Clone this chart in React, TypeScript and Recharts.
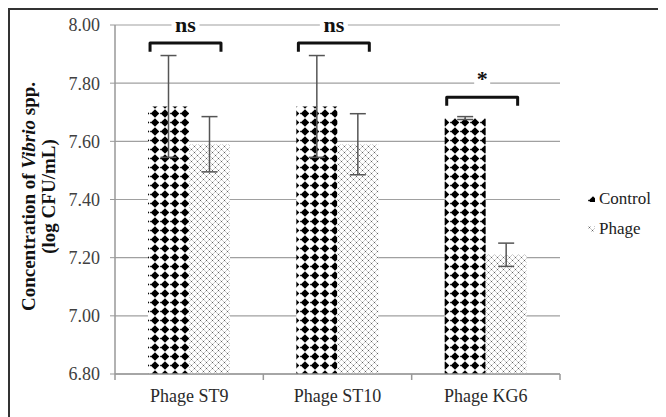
import React from "react";
import { BarChart, Bar, XAxis, YAxis, CartesianGrid, ErrorBar, Legend, LabelList } from "recharts";

const categories = ["Phage ST9", "Phage ST10", "Phage KG6"];
const controlMeans = [7.72, 7.72, 7.68];
const controlErrors = [0.175, 0.175, 0.005];
const phageMeans = [7.59, 7.59, 7.21];
const phageErrors = [0.095, 0.105, 0.04];
const yTicks = [6.8, 7.0, 7.2, 7.4, 7.6, 7.8, 8.0];
const seriesNames = ["Control", "Phage"];
const sigLabels = ["ns", "ns", "*"];
const bracketLevels = [7.938, 7.938, 7.752];

const Y_MIN = yTicks[0];
const Y_MAX = yTicks[yTicks.length - 1];

const data = categories.map((name, i) => ({
  name,
  control: controlMeans[i],
  controlErr: controlErrors[i],
  phage: phageMeans[i],
  phageErr: phageErrors[i],
}));

const SERIF = '"Liberation Serif", "Times New Roman", serif';
const fills = ["url(#ctrlPattern)", "url(#phagePattern)"];

const YLabel = (props: any) => {
  const vb = props.viewBox || {};
  const cy = vb.y + vb.height / 2 - 3;
  const x1 = 18;
  const x2 = 38;
  return (
    <g fontFamily={SERIF} fontWeight="bold" fontSize={19} fill="#111">
      <text x={x1} y={cy} textAnchor="middle" dominantBaseline="central" transform={`rotate(-90 ${x1} ${cy})`}>
        Concentration of <tspan fontStyle="italic">Vibrio</tspan> spp.
      </text>
      <text x={x2} y={cy} textAnchor="middle" dominantBaseline="central" transform={`rotate(-90 ${x2} ${cy})`}>
        (log CFU/mL)
      </text>
    </g>
  );
};

// category tick: label plus Excel-style tick marks on the band boundaries
const CategoryTick = (props: any) => {
  const { x, y, payload, index, width, visibleTicksCount } = props;
  const half = width / visibleTicksCount / 2;
  return (
    <g>
      <line x1={x - half} x2={x - half} y1={y} y2={y + 6} stroke="#999" strokeWidth={1.5} />
      {index === visibleTicksCount - 1 && (
        <line x1={x + half} x2={x + half} y1={y} y2={y + 6} stroke="#999" strokeWidth={1.5} />
      )}
      <text x={x} y={y + 28} textAnchor="middle" fontFamily={SERIF} fontSize={18} fill="#2a2a2a">
        {payload.value}
      </text>
    </g>
  );
};

// significance bracket drawn above each control/phage pair
const Bracket = (props: any) => {
  const { x, y, width, height, index, value } = props;
  if (x == null || index == null) return null;
  const k = height / (value - Y_MIN);
  const lvl = bracketLevels[index];
  const by = y - (lvl - value) * k;
  const leg = 0.03 * k;
  const x1 = x + 0.05 * width;
  const x2 = x + 1.78 * width;
  const ty = y - (lvl + 0.038 - value) * k;
  const label = sigLabels[index];
  const cx = (x1 + x2) / 2;
  const w = label.length * 12 + 4;
  return (
    <g>
      <path
        d={`M${x1},${by + leg} L${x1},${by} L${x2},${by} L${x2},${by + leg}`}
        fill="none"
        stroke="#111"
        strokeWidth={3}
        strokeLinejoin="round"
      />
      <rect x={cx - w / 2} y={ty - 16} width={w} height={19} fill="#fff" />
      <text x={cx} y={ty} textAnchor="middle" fontFamily={SERIF} fontWeight="bold" fontSize={22} fill="#111">
        {label}
      </text>
    </g>
  );
};

const LegendContent = () => (
  <div style={{ width: 96, paddingLeft: 28, boxSizing: "border-box", fontFamily: SERIF, fontSize: 17, color: "#222" }}>
    {seriesNames.map((s, i) => (
      <div key={s} style={{ height: 30, display: "flex", alignItems: "center" }}>
        <svg width={7} height={6} style={{ marginRight: 4 }}>
          <rect width={7} height={6} fill={fills[i]} />
        </svg>
        {s}
      </div>
    ))}
  </div>
);

export default function App() {
  return (
    <div
      style={{
        width: 658,
        height: 409,
        borderTop: "2px solid #333",
        borderLeft: "2px solid #333",
        boxSizing: "border-box",
        background: "#fff",
      }}
    >
      <BarChart
        width={656}
        height={407}
        data={data}
        margin={{ top: 15, right: 10, left: 0, bottom: 13 }}
        barSize={41}
        barGap={0}
      >
        <defs>
          <pattern id="ctrlPattern" patternUnits="userSpaceOnUse" width={10} height={9}>
            <rect width={10} height={9} fill="#fff" />
            <polygon points="5,0.3 9.3,4.5 5,8.7 0.7,4.5" fill="#000" />
            <rect x={0} y={3.8} width={0.8} height={1.4} fill="#000" />
          </pattern>
          <pattern id="phagePattern" patternUnits="userSpaceOnUse" width={6} height={6}>
            <rect width={6} height={6} fill="#fff" />
            <path
              d="M0.6,0.6 L2.4,2.4 M2.4,0.6 L0.6,2.4 M3.6,3.6 L5.4,5.4 M5.4,3.6 L3.6,5.4"
              stroke="#555"
              strokeWidth={0.8}
            />
          </pattern>
        </defs>
        <CartesianGrid vertical={false} stroke="#a0a0a0" strokeWidth={1.2} />
        <XAxis
          dataKey="name"
          height={30}
          tickLine={false}
          tickSize={0}
          tickMargin={0}
          axisLine={{ stroke: "#999", strokeWidth: 1.5 }}
          tick={<CategoryTick />}
        />
        <YAxis
          width={105}
          domain={[Y_MIN, Y_MAX]}
          ticks={yTicks}
          tickFormatter={(v: number) => v.toFixed(2)}
          axisLine={{ stroke: "#999", strokeWidth: 1.5 }}
          tickLine={{ stroke: "#999" }}
          tickSize={5}
          tickMargin={10}
          tick={{ fontFamily: SERIF, fontSize: 18, fill: "#404040" }}
          label={<YLabel />}
        />
        <Legend layout="vertical" align="right" verticalAlign="middle" content={<LegendContent />} />
        <Bar dataKey="control" name={seriesNames[0]} fill={fills[0]} isAnimationActive={false}>
          <ErrorBar dataKey="controlErr" width={8} stroke="#555" strokeWidth={1.5} />
          <LabelList dataKey="control" content={<Bracket />} />
        </Bar>
        <Bar dataKey="phage" name={seriesNames[1]} fill={fills[1]} isAnimationActive={false}>
          <ErrorBar dataKey="phageErr" width={8} stroke="#555" strokeWidth={1.5} />
        </Bar>
      </BarChart>
    </div>
  );
}
